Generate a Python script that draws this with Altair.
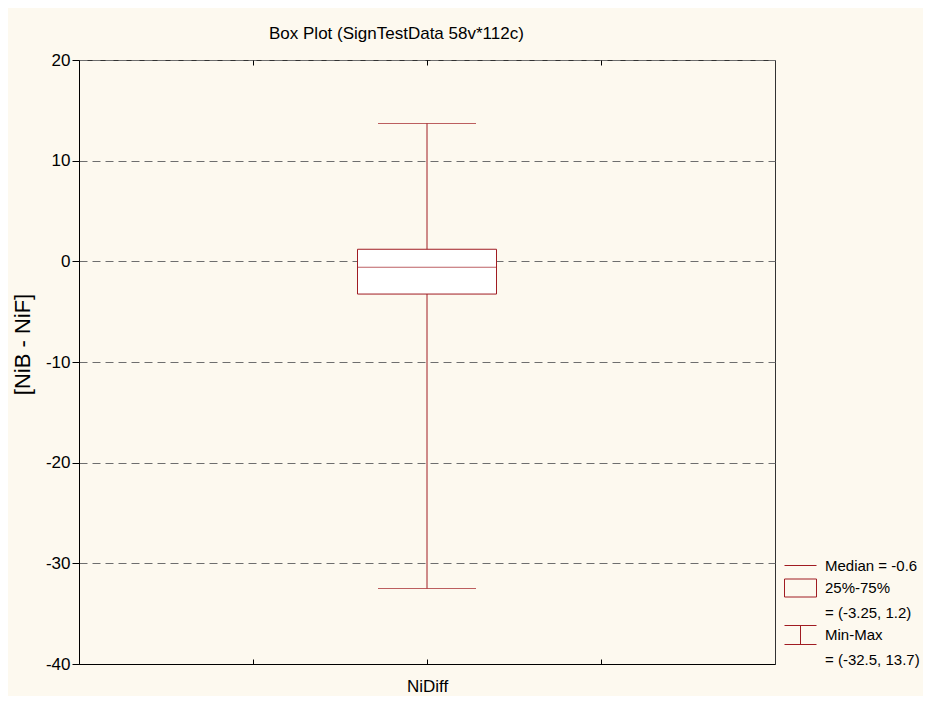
import json
import altair as alt
import pandas as pd

# ---- data ----
variables = ["NiDiff"]
slots = ["_left", "NiDiff", "_right"]      # three x tick slots (ticks at quarters)
mins = [-32.5]
q1s = [-3.25]
medians = [-0.6]
q3s = [1.2]
maxs = [13.7]
y_ticks = [-40, -30, -20, -10, 0, 10, 20]

legend_labels = [
    f"Median = {medians[0]}",
    "25%-75%",
    f"= ({q1s[0]}, {q3s[0]})",
    "Min-Max",
    f"= ({mins[0]}, {maxs[0]})",
]
legend_paths = [
    "M-1.6,0L1.6,0",
    "M-1.6,-0.9L1.6,-0.9L1.6,0.9L-1.6,0.9Z",
    "M0,0",
    "M-1.6,-0.95L1.6,-0.95M0,-0.95L0,0.95M-1.6,0.95L1.6,0.95",
    "M0,0",
]

RED = "#a01c22"
FONT = "Liberation Sans"
W, H = 696, 604

df = pd.DataFrame({"var": variables, "min": mins, "q1": q1s,
                   "median": medians, "q3": q3s, "max": maxs})
leg_df = pd.DataFrame({"label": legend_labels})

xscale = alt.Scale(type="point", domain=slots, padding=1)
yscale = alt.Scale(domain=[y_ticks[0], y_ticks[-1]], nice=False, zero=False)

label_axis = alt.Axis(
    orient="bottom", title=None, ticks=False, grid=False,
    labelExpr="indexof(%s, datum.value) >= 0 ? datum.value : ''" % json.dumps(variables),
    labelFontSize=17, labelFont=FONT, labelColor="black", labelPadding=14,
    labelAngle=0, domainColor="black", domainWidth=1,
)
bottom_inner_ticks = alt.Axis(
    orient="top", offset=-H, labels=False, domain=False, ticks=True,
    tickSize=5, tickColor="black", title=None, grid=False,
)
top_inner_ticks = alt.Axis(
    orient="bottom", offset=-H, labels=False, domain=False, ticks=True,
    tickSize=5, tickColor="black", title=None, grid=False,
)


def y_axis():
    return alt.Axis(
        orient="left",
        values=y_ticks, grid=True, gridDash=[8, 5], gridColor="#6e6e6e", gridWidth=1,
        tickSize=7, tickColor="black", domainColor="black",
        labelExpr="datum.value + ''",
        labelFontSize=17, labelFont=FONT, labelColor="black", labelPadding=2,
        title="[NiB - NiF]", titleFontSize=22, titleFont=FONT, titleFontWeight="normal",
        titleColor="black", titleAngle=-90, titleBaseline="bottom",
        titleX=-45, titleY=284,
    )


base = alt.Chart(df)

whisker = base.mark_rule(color=RED, strokeWidth=1).encode(
    x=alt.X("var:N", scale=xscale, axis=label_axis),
    y=alt.Y("min:Q", scale=yscale, axis=y_axis()),
    y2="max:Q",
)
box = base.mark_bar(size=139, fill="white", stroke=RED, strokeWidth=1).encode(
    x=alt.X("var:N", scale=xscale, axis=bottom_inner_ticks),
    y=alt.Y("q1:Q", scale=yscale, axis=y_axis()),
    y2="q3:Q",
)
median = base.mark_tick(size=139, thickness=1, color=RED).encode(
    x=alt.X("var:N", scale=xscale, axis=top_inner_ticks),
    y=alt.Y("median:Q", scale=yscale, axis=y_axis()),
)
caps = base.transform_fold(["min", "max"], as_=["stat", "value"]).mark_tick(
    size=98, thickness=1, color=RED
).encode(
    x=alt.X("var:N", scale=xscale, axis=None),
    y=alt.Y("value:Q", scale=yscale, axis=y_axis()),
)
legend_layer = alt.Chart(leg_df).mark_point(filled=False, opacity=0, color=RED).encode(
    shape=alt.Shape(
        "label:N",
        scale=alt.Scale(domain=legend_labels, range=legend_paths),
        legend=alt.Legend(
            orient="none", legendX=711, legendY=495, title=None,
            symbolSize=400, symbolStrokeWidth=1, symbolStrokeColor=RED,
            symbolFillColor="transparent", symbolOpacity=1,
            labelFontSize=15, labelFont=FONT, labelColor="black",
            labelOffset=14, rowPadding=2.5, padding=0, labelLimit=300,
        ),
    )
)

chart = alt.layer(whisker, box, median, caps, legend_layer).properties(
    width=W, height=H,
    autosize=alt.AutoSizeParams(type="none"),
    padding={"left": 71, "top": 52, "right": 148, "bottom": 32},
    background="#fdf9ef",
    title=alt.TitleParams(
        text="Box Plot (SignTestData 58v*112c)", anchor="start", frame="group",
        dx=190, dy=10, fontSize=17, font=FONT, fontWeight="normal", color="black",
        baseline="bottom", offset=1,
    ),
).configure_view(fill="white", stroke="#333333", strokeWidth=1)

chart.save("out.html", embed_options={"renderer": "svg", "actions": False})
